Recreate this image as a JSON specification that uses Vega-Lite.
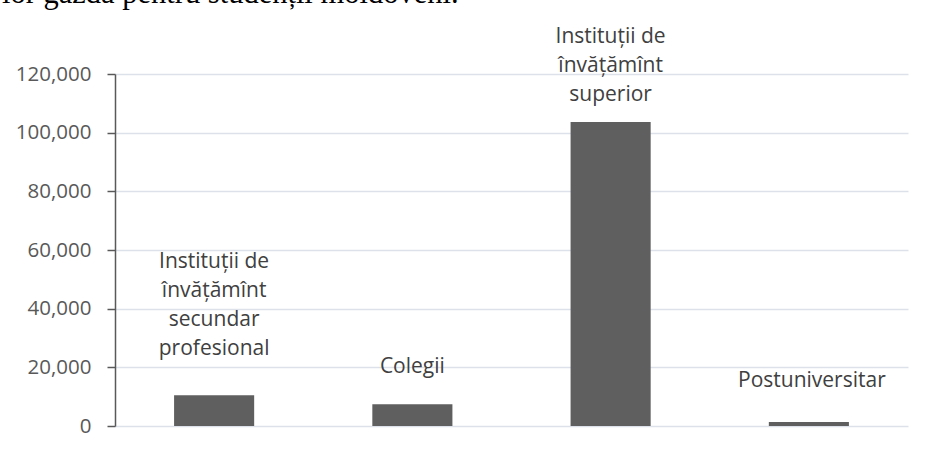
{
  "$schema": "https://vega.github.io/schema/vega-lite/v6.json",
  "autosize": "none",
  "width": 793,
  "height": 352,
  "padding": {"left": 115, "top": 74, "right": 32, "bottom": 28},
  "background": "white",
  "title": {
    "text": "lor gazdă pentru studenții moldoveni.",
    "font": "Liberation Serif",
    "fontSize": 30.5,
    "fontWeight": "normal",
    "color": "#000000",
    "anchor": "start",
    "frame": "group",
    "orient": "top",
    "baseline": "alphabetic",
    "offset": -7,
    "dx": -113
  },
  "data": {
    "values": [
      {"key": "secundar", "category": "Instituții de\nînvățămînt\nsecundar\nprofesional", "value": 10500},
      {"key": "colegii", "category": "Colegii", "value": 7400},
      {"key": "superior", "category": "Instituții de\nînvățămînt\nsuperior", "value": 103600},
      {"key": "post", "category": "Postuniversitar", "value": 1400}
    ]
  },
  "encoding": {
    "x": {
      "field": "category",
      "type": "nominal",
      "sort": null,
      "scale": {"paddingInner": 0.596, "paddingOuter": 0.298},
      "axis": null
    },
    "y": {
      "field": "value",
      "type": "quantitative",
      "scale": {"domain": [0, 120000], "nice": false},
      "axis": {
        "values": [0, 20000, 40000, 60000, 80000, 100000, 120000],
        "format": ",.0f",
        "title": null,
        "domain": true,
        "domainColor": "#595959",
        "domainWidth": 1.5,
        "ticks": true,
        "tickColor": "#595959",
        "tickSize": 8,
        "tickWidth": 1.5,
        "labelFont": "Open Sans",
        "labelFontSize": 20.5,
        "labelColor": "#595959",
        "labelPadding": 16,
        "grid": true,
        "gridColor": "#dde2ea",
        "gridWidth": 1.5
      }
    }
  },
  "layer": [
    {"mark": {"type": "bar", "color": "#5f5f5f"}},
    {
      "transform": [{"filter": "datum.key === 'secundar'"}],
      "mark": {"type": "text", "lineBreak": "\n", "font": "Open Sans", "fontSize": 21, "lineHeight": 29, "color": "#404040", "align": "center", "baseline": "alphabetic", "dy": -127},
      "encoding": {"text": {"field": "category"}}
    },
    {
      "transform": [{"filter": "datum.key === 'colegii'"}],
      "mark": {"type": "text", "lineBreak": "\n", "font": "Open Sans", "fontSize": 21, "lineHeight": 29, "color": "#404040", "align": "center", "baseline": "alphabetic", "dy": -31},
      "encoding": {"text": {"field": "category"}}
    },
    {
      "transform": [{"filter": "datum.key === 'superior'"}],
      "mark": {"type": "text", "lineBreak": "\n", "font": "Open Sans", "fontSize": 21, "lineHeight": 29, "color": "#404040", "align": "center", "baseline": "alphabetic", "dy": -79},
      "encoding": {"text": {"field": "category"}}
    },
    {
      "transform": [{"filter": "datum.key === 'post'"}],
      "mark": {"type": "text", "lineBreak": "\n", "font": "Open Sans", "fontSize": 21, "lineHeight": 29, "color": "#404040", "align": "center", "baseline": "alphabetic", "dy": -35, "dx": 3},
      "encoding": {"text": {"field": "category"}}
    }
  ],
  "config": {"view": {"stroke": null}}
}
